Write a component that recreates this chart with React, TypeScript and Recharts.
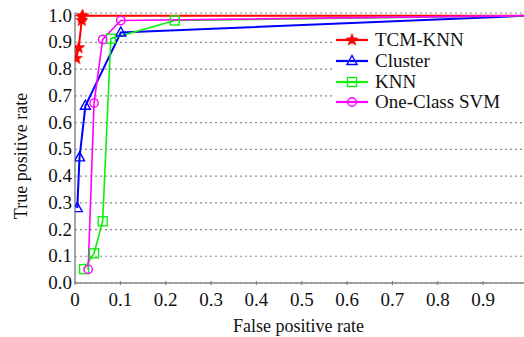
import { LineChart, Line, XAxis, YAxis, CartesianGrid, Legend } from 'recharts'

const xTicks = [0, 0.1, 0.2, 0.3, 0.4, 0.5, 0.6, 0.7, 0.8, 0.9]
const yTicks = [0, 0.1, 0.2, 0.3, 0.4, 0.5, 0.6, 0.7, 0.8, 0.9, 1.0]

const tcmFpr = [0.003, 0.008, 0.015, 0.015, 0.017, 1.0]
const tcmTpr = [0.84, 0.88, 0.982, 0.995, 1.0, 1.0]

const clusterFpr = [0.005, 0.01, 0.023, 0.101, 1.0]
const clusterTpr = [0.28, 0.47, 0.663, 0.937, 1.0]

const knnFpr = [0.02, 0.042, 0.061, 0.079, 0.22, 1.0]
const knnTpr = [0.052, 0.111, 0.231, 0.914, 0.982, 1.0]

const svmFpr = [0.029, 0.042, 0.061, 0.101, 1.0]
const svmTpr = [0.051, 0.673, 0.911, 0.982, 1.0]

type Shape = 'star' | 'triangle' | 'square' | 'circle'

const series: { name: string; color: string; shape: Shape; fpr: number[]; tpr: number[]; width: number }[] = [
  { name: 'TCM-KNN', color: '#ff0000', shape: 'star', fpr: tcmFpr, tpr: tcmTpr, width: 2 },
  { name: 'Cluster', color: '#0000ff', shape: 'triangle', fpr: clusterFpr, tpr: clusterTpr, width: 2 },
  { name: 'KNN', color: '#11ee11', shape: 'square', fpr: knnFpr, tpr: knnTpr, width: 1.6 },
  { name: 'One-Class SVM', color: '#ff00ff', shape: 'circle', fpr: svmFpr, tpr: svmTpr, width: 1.6 },
]

function starPath(cx: number, cy: number, r: number) {
  const pts: string[] = []
  for (let i = 0; i < 10; i++) {
    const rr = i % 2 === 0 ? r : r * 0.42
    const a = -Math.PI / 2 + (i * Math.PI) / 5
    pts.push(`${cx + rr * Math.cos(a)},${cy + rr * Math.sin(a)}`)
  }
  return 'M' + pts.join('L') + 'Z'
}

function Marker({ cx, cy, shape, color }: { cx: number; cy: number; shape: Shape; color: string }) {
  if (shape === 'star') return <path d={starPath(cx, cy, 6.5)} fill={color} stroke={color} strokeWidth={0.5} />
  if (shape === 'triangle')
    return <path d={`M${cx},${cy - 5.5}L${cx + 5},${cy + 3.5}L${cx - 5},${cy + 3.5}Z`} fill="none" stroke={color} strokeWidth={1.4} />
  if (shape === 'square') return <rect x={cx - 4.5} y={cy - 4.5} width={9} height={9} fill="none" stroke={color} strokeWidth={1.4} />
  return <circle cx={cx} cy={cy} r={4.2} fill="none" stroke={color} strokeWidth={1.4} />
}

function XTick(props: any) {
  const { x, y, payload } = props
  return (
    <g>
      <line x1={x} x2={x} y1={y} y2={y - 4} stroke="#777" strokeWidth={1} />
      <text x={x} y={y + 21} textAnchor="middle" fontFamily="Liberation Serif" fontSize={19} fill="#111">
        {payload.value === 0 ? '0' : payload.value.toFixed(1)}
      </text>
    </g>
  )
}

function YTick(props: any) {
  const { x, y, payload } = props
  return (
    <text x={x} y={y + 6} textAnchor="end" fontFamily="Liberation Serif" fontSize={19} fill="#111">
      {payload.value.toFixed(1)}
    </text>
  )
}

function LegendBox() {
  return (
    <div style={{ background: '#fff', padding: '2px 0 4px 0', width: 189 }}>
      {series.map((s) => (
        <div key={s.name} style={{ display: 'flex', alignItems: 'center', height: 20.7 }}>
          <svg width={36} height={20} style={{ display: 'block' }}>
            <line x1={1} x2={33} y1={10} y2={10} stroke={s.color} strokeWidth={2.2} />
            <Marker cx={17} cy={10} shape={s.shape} color={s.color} />
          </svg>
          <span style={{ fontFamily: 'Liberation Serif', fontSize: 19, color: '#111', marginLeft: 4, lineHeight: '20px' }}>
            {s.name}
          </span>
        </div>
      ))}
    </div>
  )
}

export default function App() {
  return (
    <div style={{ position: 'absolute', left: 0, top: 0, width: 524, height: 337, background: '#fff' }}>
      <LineChart width={524} height={337} margin={{ top: 13, right: 0, bottom: 0, left: 0 }}>
        <CartesianGrid vertical={false} stroke="#8a8a8a" strokeDasharray="2 3" strokeWidth={1.2} />
        <XAxis
          type="number"
          dataKey="x"
          domain={[0, 0.99]}
          ticks={xTicks}
          allowDataOverflow
          height={54}
          axisLine={{ stroke: '#888', strokeWidth: 1.5 }}
          tickLine={false}
          tickSize={0}
          tick={<XTick />}
          interval={0}
          label={{
            value: 'False positive rate',
            position: 'insideBottom',
            offset: 5,
            dx: -1,
            fontFamily: 'Liberation Serif',
            fontSize: 18,
            fill: '#111',
          }}
        />
        <YAxis
          type="number"
          domain={[0, 1.01]}
          ticks={yTicks}
          width={75}
          axisLine={{ stroke: '#888', strokeWidth: 1.5 }}
          tickLine={false}
          tickSize={0}
          tickMargin={3}
          tick={<YTick />}
          interval={0}
          label={{
            content: (p: any) => {
              const vb = p.viewBox
              const cx = 21
              const cy = vb.y + vb.height / 2 + 8
              return (
                <text
                  x={cx}
                  y={cy}
                  transform={`rotate(-90 ${cx} ${cy})`}
                  textAnchor="middle"
                  dominantBaseline="central"
                  fontFamily="Liberation Serif"
                  fontSize={18}
                  fill="#111"
                >
                  True positive rate
                </text>
              )
            },
          }}
        />
        <Legend
          layout="vertical"
          verticalAlign="middle"
          align="center"
          content={() => <LegendBox />}
          wrapperStyle={{ position: 'absolute', left: 335, top: 28, width: 189 }}
        />
        {series.map((s) => (
          <Line
            key={s.name}
            name={s.name}
            data={s.fpr.map((x, i) => ({ x, y: s.tpr[i] }))}
            dataKey="y"
            type="linear"
            stroke={s.color}
            strokeWidth={s.width}
            isAnimationActive={false}
            dot={(p: any) =>
              s.fpr[p.index] >= 0.99 ? (
                <g key={`${s.name}-${p.index}`} />
              ) : (
                <Marker key={`${s.name}-${p.index}`} cx={p.cx} cy={p.cy} shape={s.shape} color={s.color} />
              )
            }
            activeDot={false}
          />
        ))}
      </LineChart>
    </div>
  )
}
